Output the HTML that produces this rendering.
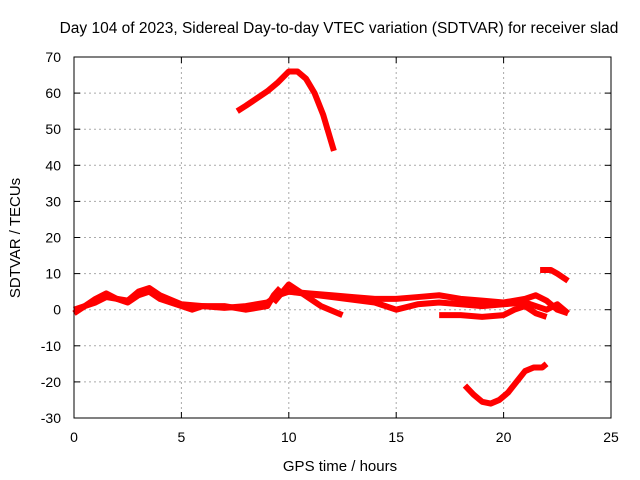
<!DOCTYPE html>
<html><head><meta charset="utf-8"><style>
body{margin:0;background:#fff}
svg{display:block;font-family:"Liberation Sans",sans-serif}
</style></head><body>
<svg id="c" width="640" height="480">
<text x="339" y="33" font-size="15.5" text-anchor="middle">Day 104 of 2023, Sidereal Day-to-day VTEC variation (SDTVAR) for receiver slad</text>
<text x="340" y="471" font-size="15" text-anchor="middle">GPS time / hours</text>
<text transform="translate(20,238) rotate(-90)" font-size="15" text-anchor="middle">SDTVAR / TECUs</text>
<g id="grid"></g><g id="marks"></g>
<rect x="74" y="57" width="537" height="361" fill="none" stroke="#000"/>
</svg>
<script>
const xTicks=[0,5,10,15,20,25];
const yTicks=[-30,-20,-10,0,10,20,30,40,50,60,70];
const s1x=[0,0.5,1,1.5,2,2.5,3,3.5,4,5,5.5,6,7,8,9,9.5,10,11,12,13,14,15,16,17,18,19,20,21,21.5,22,22.5,23];
const s1y=[-1,1,3,4.5,3,2,4,5,3,1,0,1,0.5,1,2,4,5,4.5,4,3.5,3,3,3.5,4,3,2.5,2,3,4,2.5,0,-1];
const s2x=[0,1,1.5,2.5,3,3.5,4,5,6,7,8,9,9.3,9.6];
const s2y=[0,2,3.5,2.5,5,6,4,1.5,1,1,0,1,4,6];
const s3x=[9.3,10,10.5,11,11.5,12.5];
const s3y=[2,7,5,3,1,-1.5];
const s4x=[10,12,14,15,16,17,18,19,20,21,21.5,22,22.5,23];
const s4y=[5,3.5,2,0,1.5,2,1.5,1,1.5,2,1,0,1.5,-1];
const s5x=[17,18,19,20,20.5,21,21.5,22];
const s5y=[-1.5,-1.5,-2,-1.5,0,1,-1,-2];
const s6x=[21.7,22.2,22.5,23];
const s6y=[11,11,10,8];
const s7x=[7.6,8,8.5,9,9.5,10,10.4,10.8,11.2,11.6,12,12.1];
const s7y=[55,56.5,58.5,60.5,63,66,66,64,60,54,46,44];
const s8x=[18.2,18.6,19,19.4,19.8,20.2,20.6,21,21.4,21.8,22];
const s8y=[-21,-23.5,-25.5,-26,-25,-23,-20,-17,-16,-16,-15];
const series=[[s1x,s1y],[s2x,s2y],[s3x,s3y],[s4x,s4y],[s5x,s5y],[s6x,s6y],[s7x,s7y],[s8x,s8y]];
const X=v=>74+v*(537/25), Y=v=>418-(v+30)*(361/100);
const NS="http://www.w3.org/2000/svg";
const g=document.getElementById('grid'), m=document.getElementById('marks');
function mk(t,a,p){const e=document.createElementNS(NS,t);for(const k in a)e.setAttribute(k,a[k]);p.appendChild(e);return e;}
xTicks.forEach(t=>{const x=X(t);
 if(t>0&&t<25){const l=mk('line',{x1:x,x2:x,y1:57,y2:418,stroke:'#aaa','stroke-dasharray':'2,3'},g);
 
 }
 mk('line',{x1:x,x2:x,y1:418,y2:412,stroke:'#000'},g);mk('line',{x1:x,x2:x,y1:57,y2:63,stroke:'#000'},g);
 const tx=mk('text',{x:x,y:442,'font-size':14,'text-anchor':'middle'},g);tx.textContent=t;
 
 });
yTicks.forEach(t=>{const y=Y(t);
 if(t>-30&&t<70){const l=mk('line',{x1:74,x2:611,y1:y,y2:y,stroke:'#aaa','stroke-dasharray':'2,3'},g);
 
 }
 mk('line',{x1:74,x2:80,y1:y,y2:y,stroke:'#000'},g);mk('line',{x1:605,x2:611,y1:y,y2:y,stroke:'#000'},g);
 const tx=mk('text',{x:61,y:y+5,'font-size':14,'text-anchor':'end'},g);tx.textContent=t;
 
 });
series.forEach(([xs,ys])=>{const pts=xs.map((v,i)=>X(v)+','+Y(ys[i])).join(' ');
 const p=mk('polyline',{points:pts,fill:'none',stroke:'#f00','stroke-width':6,'stroke-linejoin':'round'},m);
 
 });
</script>
</body></html>
